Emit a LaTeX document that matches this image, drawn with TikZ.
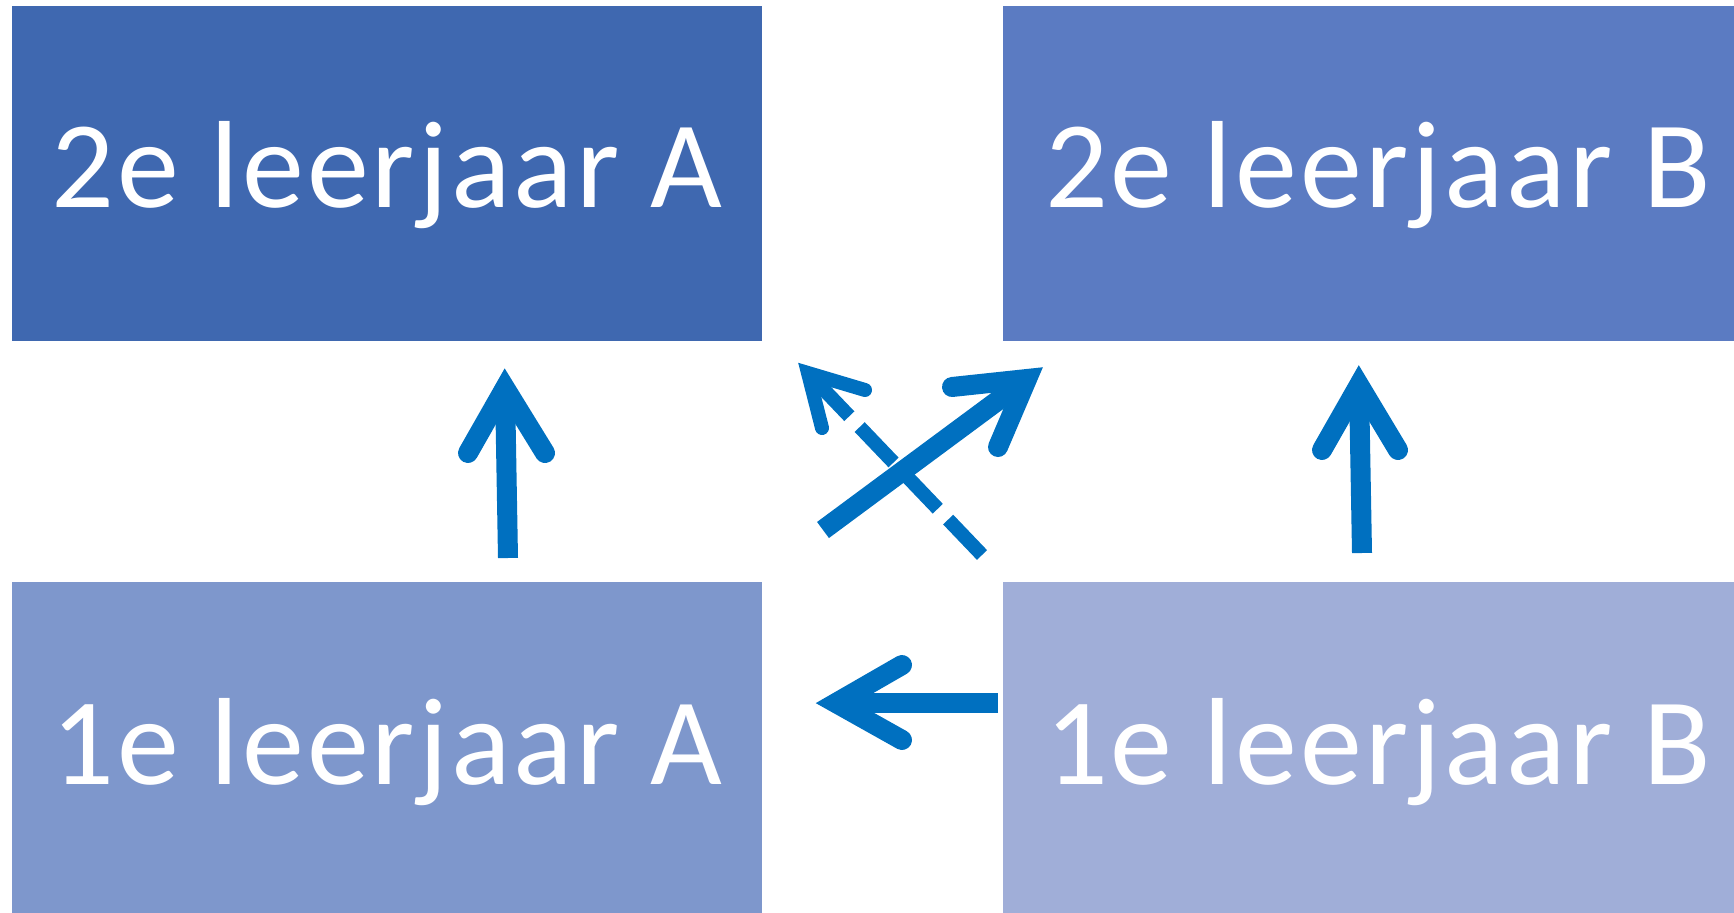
\documentclass[tikz,border=0pt]{standalone}
\usepackage{fontspec}
\setmainfont{Carlito}
\definecolor{blokA}{HTML}{3F68B0}
\definecolor{blokB}{HTML}{5B7BC2}
\definecolor{blokC}{HTML}{7E97CC}
\definecolor{blokD}{HTML}{A0AED8}
\definecolor{pijlblauw}{HTML}{0070C0}
\tikzset{
  jaar/.style={rectangle, minimum width=375pt, minimum height=167.5pt, inner sep=0pt, text=white, text height=34.5pt, text depth=0pt, font=\fontsize{62}{62}\selectfont\addfontfeatures{LetterSpace=2.5}},
  schacht/.style={draw=pijlblauw, line width=10pt},
  kop/.style={draw=pijlblauw, line width=10pt, line cap=round, line join=miter, miter limit=10},
}
\begin{document}
\begin{tikzpicture}[x=0.5pt, y=0.5pt]
\useasboundingbox (0,0) rectangle (1734,912);
\clip (0,0) rectangle (1734,912);
\node[jaar, fill=blokA] (jaar2A) at (387,738.5){2e leerjaar A};
\node[jaar, fill=blokB] (jaar2B) at (1378,738.5){2e leerjaar B};
\node[jaar, fill=blokC] (jaar1A) at (387,162.5){1e leerjaar A};
\node[jaar, fill=blokD] (jaar1B) at (1378,162.5){1e leerjaar B};
% 1A -> 2A
\coordinate (voetA) at (508,354);
\coordinate (puntA) at (505,524);
\coordinate (linksA) at (468,459);
\coordinate (rechtsA) at (545,459);
\draw[schacht] (voetA) -- (puntA);
\draw[kop] (linksA) -- (puntA) -- (rechtsA);
% 1B -> 2B
\coordinate (voetB) at (1362,359);
\coordinate (puntB) at (1359,527);
\coordinate (linksB) at (1322,462);
\coordinate (rechtsB) at (1398,462);
\draw[schacht] (voetB) -- (puntB);
\draw[kop] (linksB) -- (puntB) -- (rechtsB);
% 1B -> 1A
\coordinate (voetC) at (998,209);
\coordinate (puntC) at (836,209);
\coordinate (bovenC) at (902,247);
\coordinate (onderC) at (902,172);
\draw[schacht] (voetC) -- (puntC);
\draw[kop] (bovenC) -- (puntC) -- (onderC);
% 2B -> 1A (gestippeld)
\coordinate (voetE) at (982,357);
\coordinate (puntE) at (808,539);
\coordinate (linksE) at (865,522);
\coordinate (rechtsE) at (822,484);
\draw[schacht, line width=7pt, dash pattern=on 24.5pt off 7.5pt] (voetE) -- (puntE);
\draw[kop, line width=7pt] (linksE) -- (puntE) -- (rechtsE);
% 1A -> 2B
\coordinate (voetD) at (823,382);
\coordinate (puntD) at (1027,533);
\coordinate (linksD) at (952,525);
\coordinate (rechtsD) at (998,465);
\draw[schacht] (voetD) -- (puntD);
\draw[kop] (linksD) -- (puntD) -- (rechtsD);
\end{tikzpicture}
\end{document}
